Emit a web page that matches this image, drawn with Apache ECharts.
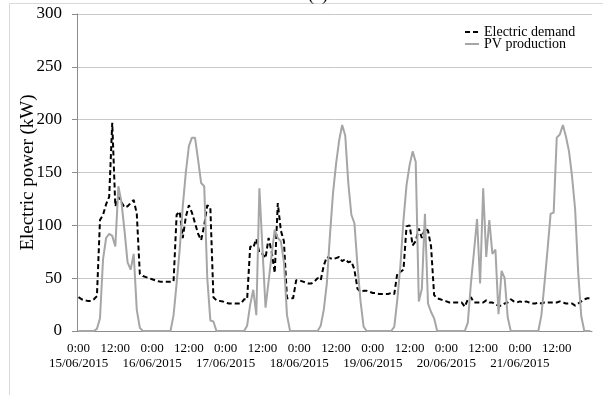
<!DOCTYPE html>
<html>
<head>
<meta charset="utf-8">
<script src="https://cdn.jsdelivr.net/npm/echarts@6/dist/echarts.min.js"></script>
<style>
html,body{margin:0;padding:0;background:#fff;}
#chart{width:603px;height:395px;}
</style>
</head>
<body>
<div id="chart"></div>
<script>
// Dates of the series (hourly samples, 7 days)
const days = ['15/06/2015','16/06/2015','17/06/2015','18/06/2015','19/06/2015','20/06/2015','21/06/2015'];
const hours = ['0:00','1:00','2:00','3:00','4:00','5:00','6:00','7:00','8:00','9:00','10:00','11:00',
               '12:00','13:00','14:00','15:00','16:00','17:00','18:00','19:00','20:00','21:00','22:00','23:00'];
const yTicks = [0, 50, 100, 150, 200, 250, 300];

// Electric demand (kW), hourly
const electricDemand = [
  32, 30, 29, 28.5, 28.5, 30, 33, 105, 110, 120, 127, 197, 118, 127, 122, 117, 118, 121, 124, 111, 54, 52, 51, 50,
  49, 48, 47, 46.5, 46.5, 46.5, 46.5, 47, 110, 113, 88, 108, 119, 112, 102, 92, 86, 100, 119, 117, 32, 29, 28.5, 28,
  27, 26, 26, 26, 26, 26, 30, 30, 80, 79, 87, 74, 73, 69, 88, 75, 55, 121, 95, 85, 31, 31, 31, 48,
  48, 47, 46, 45, 45, 47, 50, 48, 62, 70, 69, 68, 69, 70, 66, 68, 65, 66, 58, 40, 37, 38, 38, 37,
  36, 36, 35, 35, 35, 35, 36, 35, 55, 56, 58, 99, 100, 81, 85, 97, 88, 97, 95, 80, 34, 31, 30, 29,
  28, 27, 27, 27, 27, 27, 23, 30, 32, 27, 27, 27, 27, 29, 27, 27, 25, 24, 24, 26, 27, 30, 28, 27,
  28, 27, 28, 27, 26, 26, 27, 26, 27, 27, 27, 27, 27, 28, 27, 26, 26, 26, 24, 26, 28, 30, 31, 31
];

// PV production (kW), hourly
const pvProduction = [
  0, 0, 0, 0, 0, 0, 2, 12, 68, 88, 92, 90, 80, 137, 122, 95, 65, 58, 73, 20, 3, 0, 0, 0,
  0, 0, 0, 0, 0, 0, 0, 15, 45, 77, 118, 150, 175, 183, 183, 162, 140, 137, 50, 10, 9, 0, 0, 0,
  0, 0, 0, 0, 0, 0, 0, 5, 25, 39, 15, 135, 78, 22, 47, 72, 96, 88, 85, 65, 15, 0, 0, 0,
  0, 0, 0, 0, 0, 0, 0, 5, 20, 45, 90, 130, 158, 180, 195, 185, 140, 110, 102, 62, 28, 4, 0, 0,
  0, 0, 0, 0, 0, 0, 0, 4, 30, 62, 105, 138, 157, 170, 160, 28, 40, 111, 26, 18, 12, 0, 0, 0,
  0, 0, 0, 0, 0, 0, 0, 8, 45, 75, 106, 45, 135, 70, 105, 73, 77, 16, 57, 50, 13, 0, 0, 0,
  0, 0, 0, 0, 0, 0, 0, 15, 45, 77, 111, 112, 183, 186, 195, 184, 170, 146, 115, 55, 14, 0, 0, 0
];

// category = "time|date" (one per hourly sample)
const categories = [];
days.forEach(d => hours.forEach(h => categories.push(h + '|' + d)));

const serif = 'Liberation Serif, Times New Roman, serif';
const labelBase = {fontFamily: serif, fontSize: 13, color: '#000', showMinLabel: true, hideOverlap: false};
const chart = echarts.init(document.getElementById('chart'));
chart.setOption({
  animation: false,
  backgroundColor: '#fff',
  title: {
    text: '(a)', left: 303, top: -19,
    textStyle: {fontFamily: serif, fontSize: 18, fontWeight: 'normal', color: '#000'}
  },
  graphic: [{
    type: 'rect', shape: {x: 9.5, y: 3.5, width: 620, height: 420},
    style: {fill: 'none', stroke: '#d9d9d9', lineWidth: 1}, silent: true
  }],
  legend: {
    orient: 'vertical', left: 459, top: 20,
    itemWidth: 14, itemHeight: 8, itemGap: -2,
    itemStyle: {opacity: 0},
    textStyle: {fontFamily: serif, fontSize: 14, color: '#000', lineHeight: 12},
    data: ['Electric demand', 'PV production']
  },
  grid: {left: 77, right: 11, top: 14, bottom: 64},
  xAxis: [
    {
      type: 'category', data: categories, boundaryGap: true,
      axisLine: {lineStyle: {color: '#8c8c8c', width: 1}},
      axisTick: {show: false},
      axisLabel: Object.assign({}, labelBase, {interval: 11, margin: 11,
        formatter: v => v.split('|')[0]}),
      splitLine: {show: false}
    },
    {
      type: 'category', data: categories, boundaryGap: true, position: 'bottom',
      axisLine: {show: false},
      axisTick: {show: false},
      axisLabel: Object.assign({}, labelBase, {interval: 23, margin: 26,
        formatter: v => v.split('|')[1]}),
      splitLine: {show: false}
    }
  ],
  yAxis: {
    type: 'value', min: yTicks[0], max: yTicks[yTicks.length - 1], interval: 50,
    name: 'Electric power (kW)', nameLocation: 'middle', nameGap: 39, nameMoveOverlap: false,
    nameTextStyle: {fontFamily: serif, fontSize: 19, color: '#000'},
    axisLine: {show: true, lineStyle: {color: '#8c8c8c', width: 1}},
    axisTick: {show: true, length: 5, lineStyle: {color: '#8c8c8c'}},
    axisLabel: {margin: 15, fontFamily: serif, fontSize: 17, color: '#000'},
    splitLine: {lineStyle: {color: '#c8c8c8', width: 1}}
  },
  series: [
    {
      name: 'Electric demand', type: 'line', data: electricDemand, xAxisIndex: 0,
      symbol: 'none', smooth: false,
      lineStyle: {color: '#000', width: 2, type: [5, 3]},
      itemStyle: {color: '#000'}
    },
    {
      name: 'PV production', type: 'line', data: pvProduction, xAxisIndex: 0,
      symbol: 'none', smooth: false,
      lineStyle: {color: '#a6a6a6', width: 2},
      itemStyle: {color: '#a6a6a6'}
    }
  ]
});
</script>
</body>
</html>
